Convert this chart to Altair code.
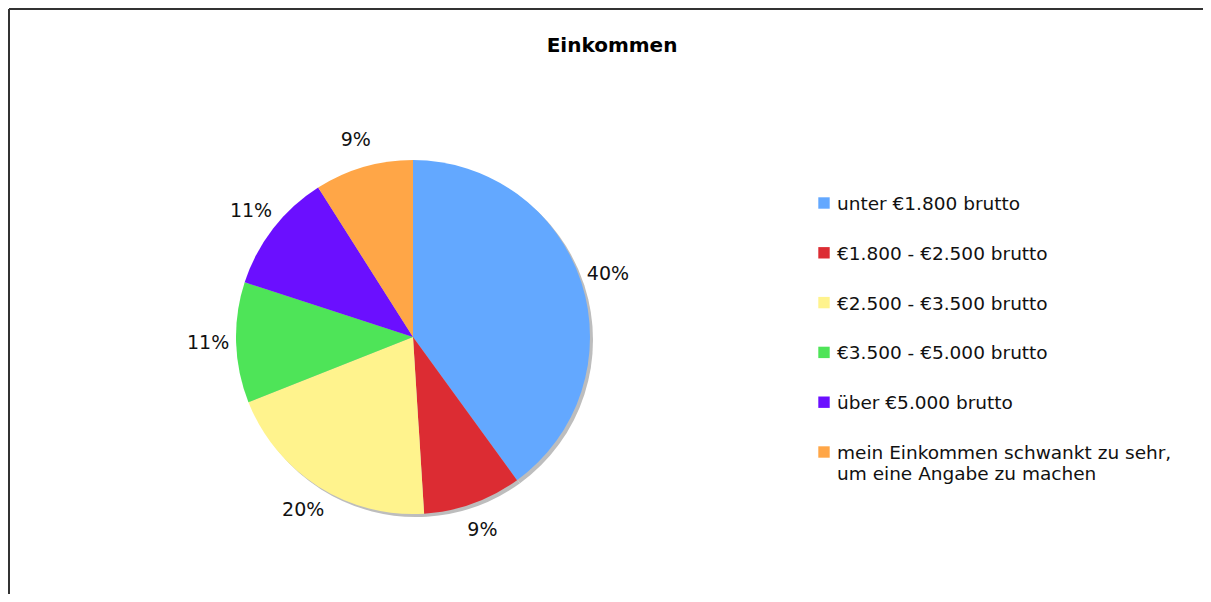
import altair as alt
import pandas as pd

categories = [
    "unter €1.800 brutto",
    "€1.800 - €2.500 brutto",
    "€2.500 - €3.500 brutto",
    "€3.500 - €5.000 brutto",
    "über €5.000 brutto",
    "mein Einkommen schwankt zu sehr,\num eine Angabe zu machen",
]
values = [40, 9, 20, 11, 11, 9]
labels = ["40%", "9%", "20%", "11%", "11%", "9%"]
colors = ["#63A8FF", "#DC2C33", "#FFF38D", "#4EE458", "#6B0FFF", "#FFA647"]
title_text = "Einkommen"

FONT = "DejaVu Sans"
W, H = 1195, 586
CX, CY, R = 404, 328, 177

df = pd.DataFrame({
    "cat": categories,
    "value": values,
    "label": labels,
    "idx": list(range(len(categories))),
})

color_scale = alt.Scale(domain=categories, range=colors)
theta = alt.Theta("value:Q", stack=True)
order = alt.Order("idx:Q")

base = alt.Chart(df)

shadow = base.mark_arc(radius=R, color="#bdbdbd").encode(
    theta=theta, order=order,
    x=alt.value(CX + 3), y=alt.value(CY + 3),
)

pie = base.mark_arc(radius=R).encode(
    theta=theta, order=order,
    color=alt.Color("cat:N", scale=color_scale, legend=None),
    x=alt.value(CX), y=alt.value(CY),
)

pct = base.mark_text(radius=205, font=FONT, fontSize=19, color="#111").encode(
    theta=theta, order=order,
    text="label:N",
    x=alt.value(CX), y=alt.value(CY),
)

ly = alt.Y("cat:N", sort=categories, axis=None,
           scale=alt.Scale(type="point", range=[194, 443], padding=0))

leg_sq = base.mark_square(size=130, opacity=1).encode(
    x=alt.value(815),
    y=ly,
    color=alt.Color("cat:N", scale=color_scale, legend=None),
)

leg_txt = base.mark_text(align="left", baseline="alphabetic", dy=7,
                         font=FONT, fontSize=18.5, lineBreak="\n",
                         lineHeight=21, color="#111").encode(
    x=alt.value(828),
    y=ly,
    text="cat:N",
)

title = alt.Chart(pd.DataFrame({"t": [title_text]})).mark_text(
    font=FONT, fontSize=20, fontWeight="bold", color="#000"
).encode(text="t:N", x=alt.value(603), y=alt.value(37))

border_top = alt.Chart(pd.DataFrame({"a": [0]})).mark_rule(
    color="#333", strokeWidth=2
).encode(x=alt.value(0), x2=alt.value(W + 30), y=alt.value(0))

border_left = alt.Chart(pd.DataFrame({"a": [0]})).mark_rule(
    color="#333", strokeWidth=2
).encode(x=alt.value(0), y=alt.value(0), y2=alt.value(H + 30))

chart = alt.layer(
    border_top, border_left, title, shadow, pie, pct, leg_sq, leg_txt
).properties(
    width=W, height=H, padding=0,
    autosize=alt.AutoSizeParams(type="fit", contains="padding"),
).configure_view(strokeWidth=0)

chart.save("out.html", embed_options={"renderer": "svg", "actions": False})
